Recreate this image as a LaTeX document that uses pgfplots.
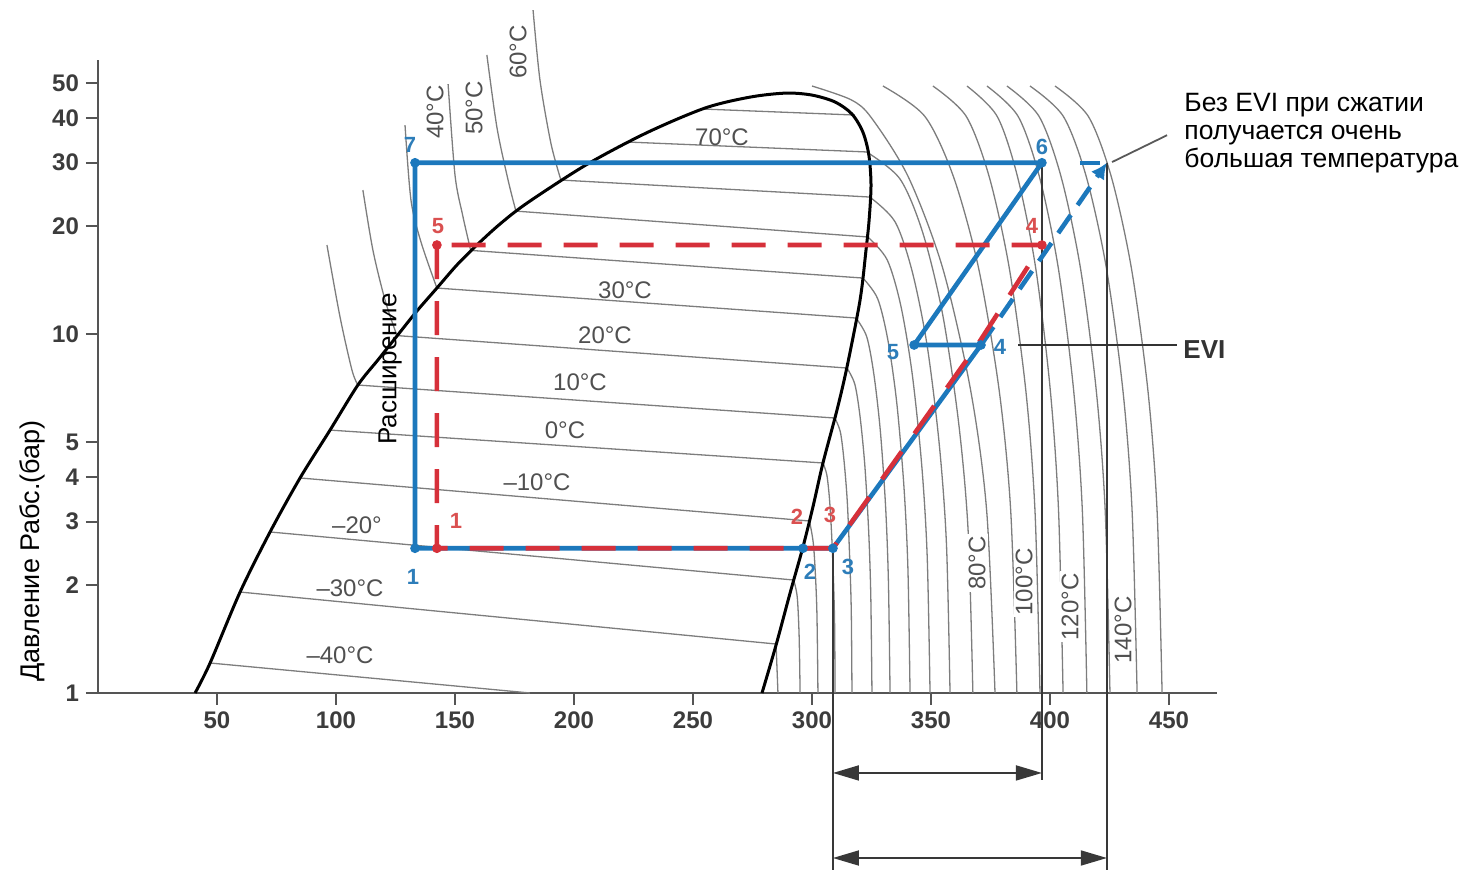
\documentclass[border=0pt]{standalone}
\usepackage{fontspec}
\setmainfont{Liberation Sans}
\usepackage{pgfplots}
\pgfplotsset{compat=1.18}
\usetikzlibrary{arrows.meta}
\definecolor{cblue}{RGB}{28,120,188}
\definecolor{cred}{RGB}{214,48,58}
\definecolor{isogray}{RGB}{125,125,125}
\definecolor{axgray}{RGB}{85,85,85}
\definecolor{tkgray}{RGB}{60,60,60}
\definecolor{lblgray}{RGB}{80,80,80}
\definecolor{lblue}{RGB}{45,125,185}
\definecolor{lred}{RGB}{218,80,80}
\tikzset{
  iso/.style={isogray, line width=0.65pt},
  dimline/.style={black!78, line width=0.9pt},
  lbl/.style={text=lblgray, font=\fontsize{12}{14}\selectfont, inner sep=1pt},
  rl/.style={lbl, rotate=90},
  bnum/.style={text=lblue, font=\fontsize{11}{13}\selectfont\bfseries, inner sep=0pt},
  rnum/.style={text=lred, font=\fontsize{11}{13}\selectfont\bfseries, inner sep=0pt},
}
\begin{document}
\begin{tikzpicture}
\useasboundingbox (0,0) rectangle (731.5pt,435pt);
\begin{axis}[
  at={(49pt,88.5pt)}, anchor=south west,
  scale only axis, width=559.3pt, height=316.5pt,
  xmin=0, xmax=470, ymin=1, ymax=58, ymode=log,
  axis lines*=left,
  axis line style={line width=1.1pt, axgray},
  xtick={50,100,150,200,250,300,350,400,450},
  ytick={1,2,3,4,5,10,20,30,40,50},
  yticklabels={1,2,3,4,5,10,20,30,40,50},
  xminorticks=false, yminorticks=false,
  tick align=outside, major tick length=6pt,
  tick style={line width=1.1pt, axgray},
  tick label style={font=\fontsize{12}{14}\selectfont\bfseries, text=tkgray},
  /pgf/number format/assume math mode=true,
  clip=false,
]
% ---- vapour isotherms
\addplot[iso] coordinates {(285.7,1) (284.9,1.369)};
\addplot[iso, smooth] coordinates {(295.0,1) (294.6,1.437) (293.8,1.851) (292.3,2.064)};
\addplot[iso, smooth] coordinates {(302.5,1) (302.0,1.736) (300.7,2.555) (298.9,3.014)};
\addplot[iso, smooth] coordinates {(309.7,1) (309.5,1.557) (309.0,2.091) (308.2,2.809) (307.3,3.504) (306.2,4.062) (304.6,4.373)};
\addplot[iso, smooth] coordinates {(316.8,1) (316.5,1.697) (315.8,2.415) (314.8,3.438) (313.4,4.479) (311.9,5.342) (309.6,5.834)};
\addplot[iso, smooth] coordinates {(325.2,1) (324.7,1.869) (323.8,2.836) (322.2,4.302) (320.2,5.883) (318.0,7.245) (314.7,8.04)};
\addplot[iso, smooth] coordinates {(332.8,1) (332.1,2.058) (330.9,3.329) (328.7,5.385) (326.0,7.726) (323.0,9.827) (318.5,11.08)};
\addplot[iso, smooth] coordinates {(341.2,1) (340.3,2.223) (338.6,3.784) (335.6,6.446) (331.9,9.607) (327.6,12.54) (321.4,14.32)};
\addplot[iso, smooth] coordinates {(349.6,1) (348.4,2.405) (346.1,4.317) (342.1,7.746) (337.3,12.01) (331.6,16.09) (323.5,18.63)};
\addplot[iso, smooth] coordinates {(358.0,1) (356.5,2.597) (353.5,4.907) (348.4,9.270) (342.1,14.94) (334.9,20.54) (324.3,24.07)};
\addplot[iso, smooth] coordinates {(367.6,1) (365.6,2.832) (361.6,5.669) (354.9,11.34) (346.6,19.10) (337.0,27.02) (323.0,32.14)};
\addplot[iso, smooth] coordinates {(376.9,1) (373.4,3.214) (366.6,7.005) (354.9,15.27) (340.5,27.37) (325.0,40.0) (316.5,44.9) (300.0,49.08)};
\addplot[iso, smooth] coordinates {(386.1,1) (383.5,3.215) (378.6,7.005) (370.0,15.26) (359.5,27.36) (347.4,40.4) (329.8,49.08)};
\addplot[iso, smooth] coordinates {(395.8,1) (393.7,3.215) (389.8,7.005) (382.9,15.26) (374.5,27.36) (364.8,40.4) (350.8,49.08)};
\addplot[iso, smooth] coordinates {(405.5,1) (403.6,3.215) (400.1,7.005) (394.0,15.26) (386.4,27.36) (377.8,40.4) (365.1,49.08)};
\addplot[iso, smooth] coordinates {(415.5,1) (413.6,3.215) (409.9,7.005) (403.5,15.26) (395.6,27.36) (386.6,40.4) (373.5,49.08)};
\addplot[iso, smooth] coordinates {(425.2,1) (423.2,3.215) (419.4,7.005) (412.8,15.26) (404.7,27.36) (395.4,40.4) (381.9,49.08)};
\addplot[iso, smooth] coordinates {(436.6,1) (434.5,3.215) (430.6,7.005) (423.7,15.26) (415.3,27.36) (405.6,40.4) (391.6,49.08)};
\addplot[iso, smooth] coordinates {(447.1,1) (445.0,3.215) (441.1,7.005) (434.2,15.26) (425.8,27.36) (416.1,40.4) (402.1,49.08)};
% ---- two-phase isotherms
\addplot[iso] coordinates {(47.1,1.212) (181.5,1)};
\addplot[iso] coordinates {(59.7,1.911) (284.9,1.369)};
\addplot[iso] coordinates {(72.3,2.809) (292.3,2.064)};
\addplot[iso] coordinates {(84.9,3.972) (298.9,3.014)};
\addplot[iso] coordinates {(97.5,5.40) (304.6,4.373)};
\addplot[iso] coordinates {(109.2,7.21) (309.6,5.834)};
\addplot[iso] coordinates {(125.6,9.90) (314.7,8.04)};
\addplot[iso] coordinates {(142.4,13.43) (318.5,11.08)};
\addplot[iso] coordinates {(156.6,17.10) (321.4,14.32)};
\addplot[iso] coordinates {(175.6,22.0) (323.8,18.63)};
\addplot[iso] coordinates {(194.5,26.85) (324.6,24.07)};
\addplot[iso] coordinates {(222.7,34.26) (323.5,32.14)};
\addplot[iso] coordinates {(253.9,42.35) (318.0,40.74)};
% ---- liquid isotherms
\addplot[iso, smooth] coordinates {(96.2,17.70) (101.7,11.15) (106.7,7.94) (109.2,7.21)};
\addplot[iso, smooth] coordinates {(111.3,25.18) (115.5,17.14) (120.6,12.44) (125.6,9.90)};
\addplot[iso, smooth] coordinates {(129.0,38.2) (131.5,23.62) (135.7,18.05) (142.4,13.43)};
\addplot[iso, smooth] coordinates {(147.1,49.7) (150.0,27.73) (153.2,21.45) (156.6,17.10)};
\addplot[iso, smooth] coordinates {(163.4,59.9) (167.6,37.7) (172.3,26.85) (175.6,22.0)};
\addplot[iso, smooth] coordinates {(182.8,79.9) (185.7,51.0) (190.3,34.0) (194.5,26.85)};
% ---- saturation dome
\addplot[black, line width=1.5pt, smooth] coordinates {
 (40.8,1) (47.1,1.212) (59.7,1.911) (72.3,2.809) (84.9,3.972) (97.5,5.40)
 (109.2,7.21) (117.6,8.465) (125.6,9.87) (134.0,11.59) (142.4,13.43) (150.8,15.57)
 (159.2,17.70) (168.9,20.25) (180.3,23.17) (205.0,29.57) (230.3,36.3) (255.0,42.6)
 (273.9,45.7) (289.1,46.9) (300.0,46.3) (309.7,44.3) (316.8,41.0) (321.4,36.5)
 (323.9,31.5) (324.8,26.0) (324.0,20.78) (322.7,17.14) (320.2,12.44)
 (314.7,8.09) (310.5,6.14) (304.6,4.37) (300.4,3.30) (296.2,2.55) (290.8,1.90)
 (284.9,1.36) (279.0,1)};
% ---- dimension lines
\addplot[dimline] coordinates {(308.8,2.53) (308.8,0.321)};
\addplot[dimline] coordinates {(396.6,30) (396.6,0.5725)};
\addplot[dimline] coordinates {(423.9,30) (423.9,0.321)};
\addplot[dimline, {Triangle[length=13pt,width=7.5pt]}-{Triangle[length=13pt,width=7.5pt]}] coordinates {(308.8,0.5987) (396.6,0.5987)};
\addplot[dimline, {Triangle[length=13pt,width=7.5pt]}-{Triangle[length=13pt,width=7.5pt]}] coordinates {(308.8,0.347) (423.9,0.347)};
\addplot[black!80, line width=0.9pt] coordinates {(386.6,9.32) (453.4,9.32)};
\addplot[black!65, line width=0.9pt] coordinates {(426.1,30.14) (449.2,35.8)};
% ---- cycle with EVI (blue)
\addplot[cblue, line width=2.3pt, line join=round] coordinates {(133.2,30) (133.2,2.53) (308.8,2.53) (371.0,9.32) (342.9,9.32) (396.6,30) (133.2,30)};
\addplot[cblue, line width=1.8pt] coordinates {(412.6,30) (421.0,30)};
\addplot[cblue, line width=2.3pt, dash pattern=on 11pt off 6pt, -{Latex[length=8pt,width=8pt]}] coordinates {(371.0,9.32) (423.9,30)};
% ---- cycle without EVI (red, dashed)
\addplot[cred, line width=2.3pt, dash pattern=on 17pt off 11pt] coordinates {(142.4,17.7) (142.4,2.53) (308.8,2.53) (369.5,9.32) (396.6,17.7) (142.4,17.7)};
% ---- points
\addplot[only marks, mark=*, mark size=2.2pt, cblue] coordinates {(133.2,30) (133.2,2.53) (296.2,2.53) (308.8,2.53) (371.0,9.32) (342.9,9.32) (396.6,30)};
\addplot[only marks, mark=*, mark size=2.2pt, cred] coordinates {(142.4,17.7) (142.4,2.53) (396.6,17.7)};
\end{axis}
\begin{scope}[x=0.5pt, y=-0.5pt, yshift=435pt]
% isotherm labels
\node[lbl] at (722,137) {70°C};
\node[lbl] at (625,290) {30°C};
\node[lbl] at (605,335) {20°C};
\node[lbl] at (580,382) {10°C};
\node[lbl] at (565,430) {0°C};
\node[lbl] at (537,482) {–10°C};
\node[lbl] at (357,525) {–20°};
\node[lbl] at (350,588) {–30°C};
\node[lbl] at (340,655) {–40°C};
\node[rl] at (435,112) {40°C};
\node[rl] at (474,108) {50°C};
\node[rl] at (518,52) {60°C};
\node[rl, fill=white] at (977,563) {80°C};
\node[rl, fill=white] at (1024,582) {100°C};
\node[rl, fill=white] at (1070,607) {120°C};
\node[rl, fill=white] at (1123,630) {140°C};
% point numbers
\node[bnum] at (410,145) {7};
\node[bnum] at (413,577) {1};
\node[bnum] at (810,572) {2};
\node[bnum] at (848,567) {3};
\node[bnum] at (893,352) {5};
\node[bnum] at (1000,347) {4};
\node[bnum] at (1042,147) {6};
\node[rnum] at (438,226) {5};
\node[rnum] at (456,521) {1};
\node[rnum] at (797,517) {2};
\node[rnum] at (830,515) {3};
\node[rnum] at (1032,226) {4};
% texts
\node[rotate=90, font=\fontsize{13.5}{15}\selectfont] at (32,551) {Давление Рабс.(бар)};
\node[rotate=90, font=\fontsize{13}{15}\selectfont] at (390,369) {Расширение};
\node[anchor=west, inner sep=0pt, font=\fontsize{13}{15}\selectfont\bfseries, text=black!80] at (1183,350) {EVI};
\node[anchor=base west, inner sep=0pt, font=\fontsize{13.25}{14}\selectfont] at (1184,112) {Без EVI при сжатии};
\node[anchor=base west, inner sep=0pt, font=\fontsize{13.25}{14}\selectfont] at (1184,140) {получается очень};
\node[anchor=base west, inner sep=0pt, font=\fontsize{13.25}{14}\selectfont] at (1184,168) {большая температура};
\end{scope}
\end{tikzpicture}
\end{document}
